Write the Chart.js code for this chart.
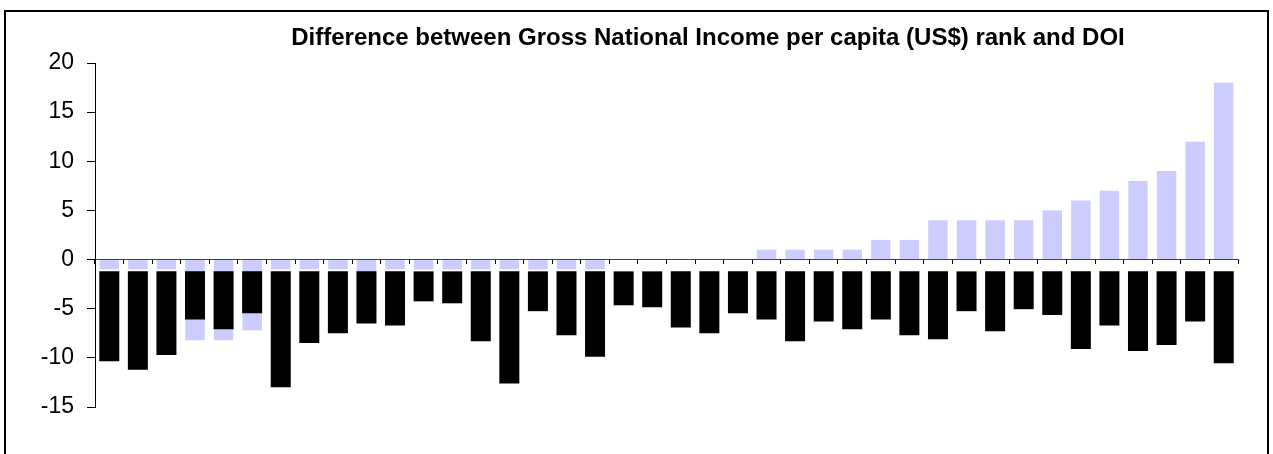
<!DOCTYPE html>
<html>
<head>
<meta charset="utf-8">
<title>GNI rank vs DOI</title>
<script src="https://cdn.jsdelivr.net/npm/chart.js@4.4.0/dist/chart.umd.min.js"></script>
<style>
  html, body { margin: 0; padding: 0; background: #fff; }
  #wrap { position: relative; width: 1273px; height: 454px; overflow: hidden; }
  #myChart { position: absolute; left: 0; top: 0; }
  #frame {
    position: absolute; left: 4px; top: 10px; width: 1261px; height: 470px;
    border: 2px solid #000; pointer-events: none;
  }
</style>
</head>
<body>
<div id="wrap">
  <canvas id="myChart" width="1273" height="454"></canvas>
  <div id="frame"></div>
</div>
<script>
// Countries ordered by rank difference (labels are not shown on the axis)
var categories = [];
for (var i = 1; i <= 40; i++) {
    categories.push(String(i));
}

// Difference between GNI per capita rank and DOI
var rankDiff = [-1, -1, -1, -8.2, -8.2, -7.2, -1, -1, -1, -5,
                -1, -1, -1, -1, -1, -1, -1, -1, 0, 0,
                0, 0, 0, 1, 1, 1, 1, 2, 2, 4,
                4, 4, 4, 5, 6, 7, 8, 9, 12, 18];

// Second series, drawn as floating bars hanging below the zero line
var doiBars = [-10.35, -11.2, -9.7, -6.1, -7.1, -5.45, -13.0, -8.5, -7.5, -6.5,
               -6.7, -4.25, -4.45, -8.3, -12.6, -5.25, -7.7, -9.9, -4.65, -4.85,
               -6.9, -7.5, -5.45, -6.1, -8.3, -6.3, -7.1, -6.1, -7.7, -8.1,
               -5.25, -7.3, -5.05, -5.65, -9.1, -6.7, -9.3, -8.7, -6.3, -10.55];
var doiTop = -1.2;

var yTicks = [20, 15, 10, 5, 0, -5, -10, -15];

var chartTitle = "Difference between Gross National Income per capita (US$) rank and DOI";

// Title drawn centred over the bars
var titlePlugin = {
    id: 'titleText',
    afterDraw: function(chart) {
        var ctx = chart.ctx;
        ctx.save();
        ctx.font = 'bold 24px "Liberation Sans", Arial, sans-serif';
        ctx.fillStyle = '#000';
        ctx.textAlign = 'center';
        ctx.textBaseline = 'middle';
        ctx.fillText(chartTitle, 708, 38);
        ctx.restore();
    }
};

var ctx = document.getElementById('myChart').getContext('2d');
var myChart = new Chart(ctx, {
    type: 'bar',
    data: {
        labels: categories,
        datasets: [{
            label: 'DOI',
            data: doiBars.map(function(v) { return [doiTop, v]; }),
            backgroundColor: '#000000',
            borderWidth: 0,
            grouped: false,
            categoryPercentage: 1,
            barPercentage: 0.7
        }, {
            label: 'Rank difference',
            data: rankDiff,
            backgroundColor: '#CCCCFF',
            borderWidth: 0,
            grouped: false,
            categoryPercentage: 1,
            barPercentage: 0.68
        }]
    },
    options: {
        responsive: false,
        animation: false,
        layout: {
            padding: { left: 0, top: 63, right: 35, bottom: 47 }
        },
        plugins: {
            legend: { display: false },
            title: { display: false },
            tooltip: { enabled: false }
        },
        scales: {
            x: {
                type: 'category',
                position: { y: 0 },
                ticks: { display: false },
                grid: {
                    display: true,
                    drawOnChartArea: false,
                    drawTicks: true,
                    tickLength: 4,
                    color: '#000',
                    offset: true
                },
                border: { display: true, color: '#404040', width: 1 }
            },
            y: {
                min: -15,
                max: 20,
                afterBuildTicks: function(scale) {
                    scale.ticks = yTicks.map(function(v) { return { value: v }; });
                },
                afterFit: function(scale) {
                    scale.width = 95;
                },
                ticks: {
                    color: '#000',
                    padding: 13,
                    font: { family: '"Liberation Sans", Arial, sans-serif', size: 23 }
                },
                grid: {
                    display: true,
                    drawOnChartArea: false,
                    drawTicks: true,
                    tickLength: 8,
                    color: '#000'
                },
                border: { display: true, color: '#000', width: 1 }
            }
        }
    },
    plugins: [titlePlugin]
});
</script>
</body>
</html>
